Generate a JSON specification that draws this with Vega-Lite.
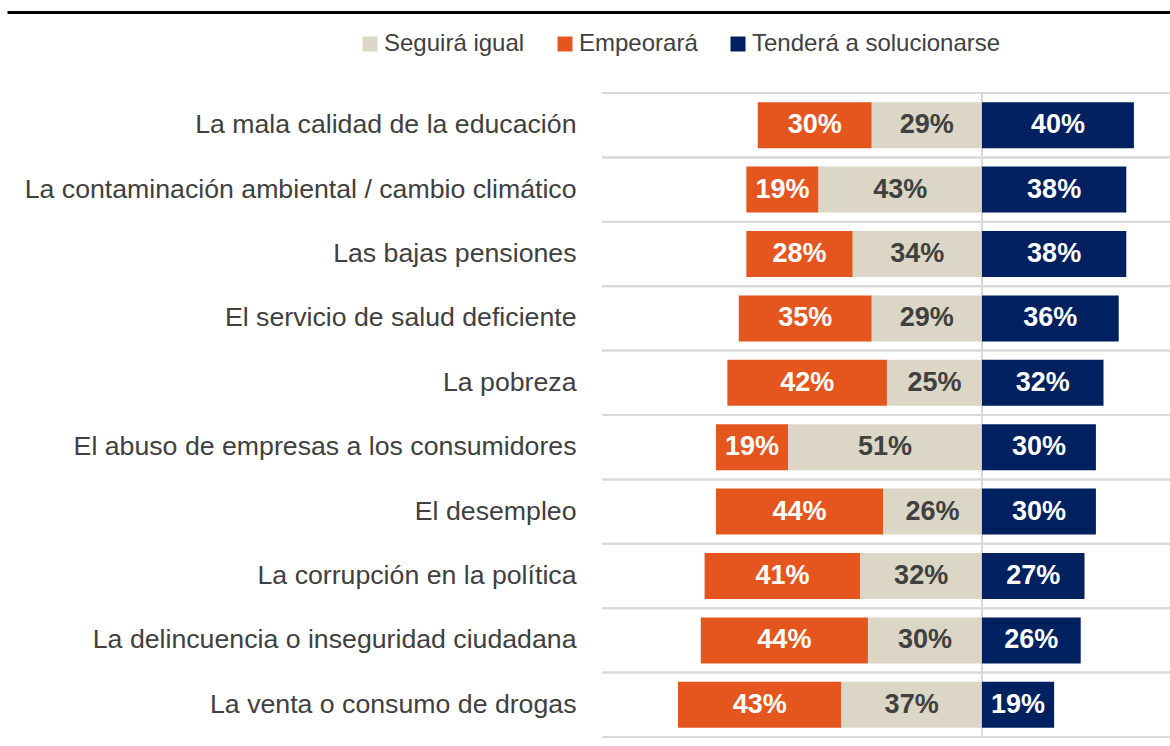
{
  "$schema": "https://vega.github.io/schema/vega-lite/v6.json",
  "autosize": "none",
  "width": 1163,
  "height": 644,
  "padding": {"left": 7, "top": 93, "right": 0, "bottom": 9},
  "background": "white",
  "config": {
    "view": {"stroke": null},
    "font": "Liberation Sans",
    "axisY": {
      "domain": false,
      "ticks": false,
      "tickSize": 0,
      "grid": false,
      "title": null,
      "labelAlign": "right",
      "labelPadding": -569,
      "labelFontSize": 26.7,
      "labelColor": "#404040",
      "labelFont": "Liberation Sans",
      "labelLimit": 700
    },
    "axisX": {
      "labels": false,
      "ticks": false,
      "title": null,
      "grid": false,
      "domain": true,
      "domainColor": "#000000",
      "domainWidth": 3
    }
  },
  "data": {
    "values": [
      {"c": "La mala calidad de la educación", "s": "Empeorará", "v": 0.30},
      {"c": "La mala calidad de la educación", "s": "Seguirá igual", "v": 0.29},
      {"c": "La mala calidad de la educación", "s": "Tenderá a solucionarse", "v": 0.40},
      {"c": "La contaminación ambiental / cambio climático", "s": "Empeorará", "v": 0.19},
      {"c": "La contaminación ambiental / cambio climático", "s": "Seguirá igual", "v": 0.43},
      {"c": "La contaminación ambiental / cambio climático", "s": "Tenderá a solucionarse", "v": 0.38},
      {"c": "Las bajas pensiones", "s": "Empeorará", "v": 0.28},
      {"c": "Las bajas pensiones", "s": "Seguirá igual", "v": 0.34},
      {"c": "Las bajas pensiones", "s": "Tenderá a solucionarse", "v": 0.38},
      {"c": "El servicio de salud deficiente", "s": "Empeorará", "v": 0.35},
      {"c": "El servicio de salud deficiente", "s": "Seguirá igual", "v": 0.29},
      {"c": "El servicio de salud deficiente", "s": "Tenderá a solucionarse", "v": 0.36},
      {"c": "La pobreza", "s": "Empeorará", "v": 0.42},
      {"c": "La pobreza", "s": "Seguirá igual", "v": 0.25},
      {"c": "La pobreza", "s": "Tenderá a solucionarse", "v": 0.32},
      {"c": "El abuso de empresas a los consumidores", "s": "Empeorará", "v": 0.19},
      {"c": "El abuso de empresas a los consumidores", "s": "Seguirá igual", "v": 0.51},
      {"c": "El abuso de empresas a los consumidores", "s": "Tenderá a solucionarse", "v": 0.30},
      {"c": "El desempleo", "s": "Empeorará", "v": 0.44},
      {"c": "El desempleo", "s": "Seguirá igual", "v": 0.26},
      {"c": "El desempleo", "s": "Tenderá a solucionarse", "v": 0.30},
      {"c": "La corrupción en la política", "s": "Empeorará", "v": 0.41},
      {"c": "La corrupción en la política", "s": "Seguirá igual", "v": 0.32},
      {"c": "La corrupción en la política", "s": "Tenderá a solucionarse", "v": 0.27},
      {"c": "La delincuencia o inseguridad ciudadana", "s": "Empeorará", "v": 0.44},
      {"c": "La delincuencia o inseguridad ciudadana", "s": "Seguirá igual", "v": 0.30},
      {"c": "La delincuencia o inseguridad ciudadana", "s": "Tenderá a solucionarse", "v": 0.26},
      {"c": "La venta o consumo de drogas", "s": "Empeorará", "v": 0.43},
      {"c": "La venta o consumo de drogas", "s": "Seguirá igual", "v": 0.37},
      {"c": "La venta o consumo de drogas", "s": "Tenderá a solucionarse", "v": 0.19}
    ]
  },
  "transform": [
    {"calculate": "datum.s === 'Tenderá a solucionarse' ? datum.v : -datum.v", "as": "sv"},
    {"calculate": "indexof(['Seguirá igual','Empeorará','Tenderá a solucionarse'], datum.s)", "as": "o"},
    {"stack": "sv", "groupby": ["c"], "sort": [{"field": "o", "order": "ascending"}], "as": ["x0", "x1"]},
    {"calculate": "(datum.x0 + datum.x1) / 2", "as": "xm"}
  ],
  "layer": [
    {
      "transform": [{"filter": "datum.s === 'Empeorará'"}],
      "mark": {"type": "rule", "color": "#d9d9d9", "strokeWidth": 2},
      "encoding": {
        "y": {"field": "c", "type": "nominal", "sort": null, "bandPosition": 0, "axis": {"orient": "left"}},
        "x": {"datum": -1, "type": "quantitative", "axis": {"orient": "top", "offset": 81}},
        "x2": {"datum": 0.495}
      }
    },
    {
      "transform": [{"filter": "datum.s === 'Empeorará'"}],
      "mark": {"type": "rule", "color": "#d9d9d9", "strokeWidth": 2},
      "encoding": {
        "y": {"field": "c", "type": "nominal", "sort": null, "bandPosition": 1, "axis": {"orient": "left"}},
        "x": {"datum": -1, "type": "quantitative", "axis": {"orient": "top", "offset": 81}},
        "x2": {"datum": 0.495}
      }
    },
    {
      "transform": [{"filter": "datum.s === 'Empeorará' && datum.c === 'La pobreza'"}],
      "mark": {"type": "rule", "color": "#d9d9d9", "strokeWidth": 2},
      "encoding": {
        "x": {"datum": 0, "type": "quantitative", "axis": {"orient": "top", "offset": 81}}
      }
    },
    {
      "mark": {"type": "bar", "height": {"band": 0.715}},
      "encoding": {
        "y": {
          "field": "c",
          "type": "nominal",
          "sort": null,
          "scale": {"paddingInner": 0, "paddingOuter": 0},
          "axis": {"orient": "left"}
        },
        "x": {
          "field": "x0",
          "type": "quantitative",
          "scale": {"domain": [-2.566, 0.495], "nice": false, "zero": false},
          "axis": {"orient": "top", "offset": 81}
        },
        "x2": {"field": "x1"},
        "color": {
          "field": "s",
          "type": "nominal",
          "scale": {
            "domain": ["Seguirá igual", "Empeorará", "Tenderá a solucionarse"],
            "range": ["#DBD6C5", "#E5561F", "#00215F"]
          },
          "legend": {
            "title": null,
            "orient": "none",
            "direction": "horizontal",
            "legendX": 351,
            "legendY": -61,
            "symbolType": "square",
            "symbolSize": 225,
            "symbolStrokeWidth": 0,
            "labelFontSize": 24,
            "labelFont": "Liberation Sans",
            "labelColor": "#404040",
            "labelOffset": 2,
            "columnPadding": 28,
            "labelLimit": 400
          }
        }
      }
    },
    {
      "mark": {"type": "text", "fontSize": 27, "fontWeight": "bold", "font": "Liberation Sans", "baseline": "middle", "align": "center"},
      "encoding": {
        "y": {"field": "c", "type": "nominal", "sort": null, "axis": {"orient": "left"}},
        "x": {"field": "xm", "type": "quantitative", "axis": {"orient": "top", "offset": 81}},
        "text": {"field": "v", "type": "quantitative", "format": ".0%"},
        "color": {
          "condition": {"test": "datum.s === 'Seguirá igual'", "value": "#404040"},
          "value": "white"
        }
      }
    }
  ]
}
